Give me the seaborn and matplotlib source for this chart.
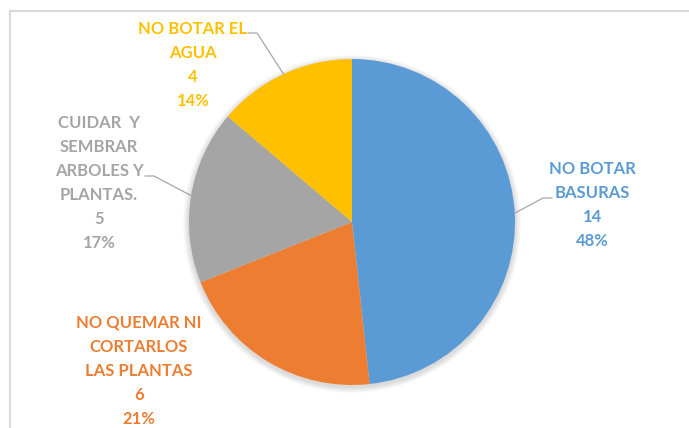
import matplotlib.pyplot as plt
import seaborn as sns
import numpy as np
from matplotlib.lines import Line2D

# data
categories = ["NO BOTAR\nBASURAS", "NO QUEMAR NI\nCORTARLOS\nLAS PLANTAS",
              "CUIDAR  Y\nSEMBRAR\nARBOLES Y\nPLANTAS.", "NO BOTAR EL\nAGUA"]
counts = [14, 6, 5, 4]
colors = ["#5B9BD5", "#ED7D31", "#A5A5A5", "#FFC000"]

sns.set_theme(style="white")
plt.rcParams["font.family"] = ["Lato", "DejaVu Sans"]

W, H, DPI = 689, 428, 100
R = 163          # pie radius in px
CX, CY = 352, 222  # pie centre in px (y from top)

fig = plt.figure(figsize=(W / DPI, H / DPI), dpi=DPI)
ax = fig.add_axes([0, 0, 1, 1])

wedges, _ = ax.pie(counts, colors=colors, startangle=90, counterclock=False,
                   wedgeprops=dict(linewidth=0))

# soft shadow behind pie
for k in range(6):
    sh = plt.Circle((0, -0.012), 1 + 0.006 * (k + 1), color="black",
                    alpha=0.025, zorder=0, lw=0)
    ax.add_patch(sh)

ax.set_xlim(-CX / R, (W - CX) / R)
ax.set_ylim(-(H - CY) / R, CY / R)
ax.axis("off")


def px(x, y):
    return (x - CX) / R, (CY - y) / R


# label layout: text centre (px), leader elbow (px) or None
layout = [
    ((592, 205), (552, 198)),
    ((139, 371), None),
    ((99, 183), (145, 176)),
    ((193, 65), (248, 33)),
]

total = sum(counts)
for w, cat, n, col, (tpos, elbow) in zip(wedges, categories, counts, colors, layout):
    pct = round(100 * n / total)
    tx, ty = px(*tpos)
    ax.text(tx, ty, f"{cat}\n{n}\n{pct}%", color=col, fontsize=12,
            fontweight="bold", ha="center", va="center", linespacing=1.62)
    if elbow is not None:
        mid = np.deg2rad((w.theta1 + w.theta2) / 2)
        ex, ey = np.cos(mid), np.sin(mid)
        bx, by = px(*elbow)
        step = 9 / R if ex < 0 else -9 / R
        ax.plot([bx, bx + step, ex], [by, by, ey], color="#A6A6A6", lw=0.9)

# chart frame
fig.add_artist(Line2D([10 / W, 1], [1 - 11 / H, 1 - 11 / H], color="#D9D9D9", lw=1.5))
fig.add_artist(Line2D([10 / W, 10 / W], [0, 1 - 11 / H], color="#D9D9D9", lw=1.5))

plt.savefig("out.png", dpi=DPI)
